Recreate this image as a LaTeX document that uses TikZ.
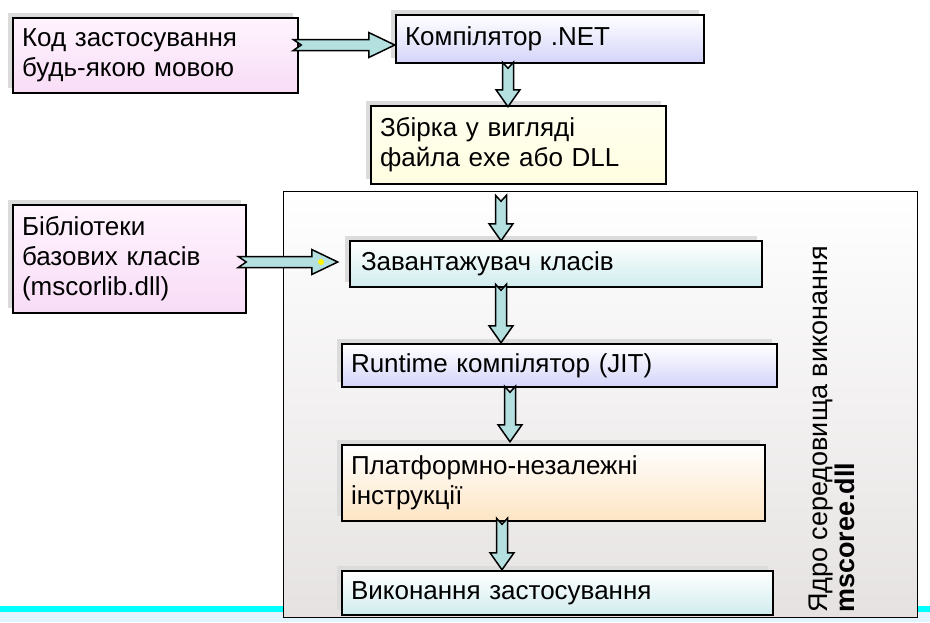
\documentclass[tikz,border=0pt]{standalone}
\usepackage{fontspec}
\setmainfont{Liberation Sans}
\usetikzlibrary{calc,shadows}

\definecolor{pinktop}{HTML}{FFF4FE}
\definecolor{pinkbot}{HTML}{F8DCF6}
\definecolor{lavbot}{HTML}{D4D4FA}
\definecolor{yeltop}{HTML}{FFFFF0}
\definecolor{yelbot}{HTML}{FFFDE0}
\definecolor{cyanbot}{HTML}{D0ECEE}
\definecolor{peachbot}{HTML}{FDE5C4}
\definecolor{corebot}{HTML}{E6E2E2}
\definecolor{arrowfill}{HTML}{B4E0E0}
\definecolor{bandline}{HTML}{00FFFF}
\definecolor{bandfill}{HTML}{E2F4FD}

\tikzset{
  box/.style={draw, line width=2.5pt, inner xsep=9pt, inner ysep=0pt, align=left,
    font=\fontsize{26}{30}\selectfont,
    general shadow={shadow xshift=-5pt, shadow yshift=5pt, fill=gray!28}},
  pinkbox/.style={box, top color=pinktop, bottom color=pinkbot},
  lavbox/.style={box, top color=white, bottom color=lavbot},
  yelbox/.style={box, top color=yeltop, bottom color=yelbot},
  cyanbox/.style={box, top color=white, bottom color=cyanbot},
  peachbox/.style={box, top color=white, bottom color=peachbot},
  fatarrow/.style={draw=black, line width=1.5pt, fill=arrowfill, line join=miter}
}

\newcommand{\vfat}[2]{\path[fatarrow] let \p1=#1, \p2=#2 in
  (\x1-5.5pt,\y1) -- (\x1,\y1-6pt) -- (\x1+5.5pt,\y1) -- (\x1+5.5pt,\y2+17pt)
  -- (\x1+12pt,\y2+17pt) -- (\x1,\y2) -- (\x1-12pt,\y2+17pt) -- (\x1-5.5pt,\y2+17pt) -- cycle;}
\newcommand{\hfat}[2]{\path[fatarrow] let \p1=#1, \p2=#2 in
  (\x1,\y1+5.5pt) -- (\x2-26pt,\y1+5.5pt) -- (\x2-26pt,\y1+12.5pt) -- (\x2,\y1)
  -- (\x2-26pt,\y1-12.5pt) -- (\x2-26pt,\y1-5.5pt) -- (\x1,\y1-5.5pt) -- (\x1+8pt,\y1) -- cycle;}

\begin{document}
\begin{tikzpicture}[x=1pt, y=-1pt]
  \useasboundingbox (0,0) rectangle (930,622);
  \fill[bandfill] (0,611) rectangle (930,622);
  \fill[bandline] (0,606) rectangle (930,612);
  \draw[line width=1pt, top color=white, bottom color=corebot] (283,191) rectangle (917,617);

  \node[pinkbox, text width=267pt, minimum height=75pt] (code) at (155.5,55.5) {Код застосування\\будь-якою мовою};
  \node[lavbox, text width=290pt, minimum height=48pt] (compiler) at (550,39) {Компілятор .NET};
  \node[yelbox, text width=277pt, minimum height=78pt] (assembly) at (518.5,145) {Збірка у вигляді\\файла exe або DLL};
  \node[pinkbox, text width=215pt, minimum height=108pt] (libs) at (129.5,259) {Бібліотеки\\базових класів\\(mscorlib.dll)};
  \node[cyanbox, minimum height=46pt, inner xsep=11pt, text width=390pt] (loader) at (556,264) {Завантажувач класів};
  \node[lavbox, text width=417pt, minimum height=43pt] (jit) at (559.5,365.5) {Runtime компілятор (JIT)};
  \node[peachbox, text width=405pt, minimum height=76pt] (native) at (553.5,483) {Платформно-незалежні\\інструкції};
  \node[cyanbox, text width=413pt, minimum height=44pt] (run) at (557.5,593) {Виконання застосування};

  \node[rotate=90, anchor=north west, inner sep=0pt, align=left,
    font=\fontsize{27}{27}\selectfont] (core) at (809,613) {Ядро середовища виконання\\\textbf{mscoree.dll}};

  \hfat{($(code.east)+(-6,-10.5)$)}{(compiler.west)}
  \vfat{($(compiler.south)+(-42,-2)$)}{($(assembly.north)+(0,2)$)}
  \vfat{($(assembly.south)+(-17.5,10)$)}{($(loader.north)+(0,1)$)}
  \hfat{($(libs.east)+(-9,3)$)}{($(loader.west)+(-11,0)$)}
  \vfat{($(loader.south)+(-55,-4)$)}{(jit.north)}
  \vfat{($(jit.south)+(-49.5,-2)$)}{($(native.north)+(0,-2)$)}
  \vfat{($(native.south)+(-51.5,-4)$)}{(run.north)}
  \fill[yellow] (321,262) circle (3pt);
\end{tikzpicture}
\end{document}
